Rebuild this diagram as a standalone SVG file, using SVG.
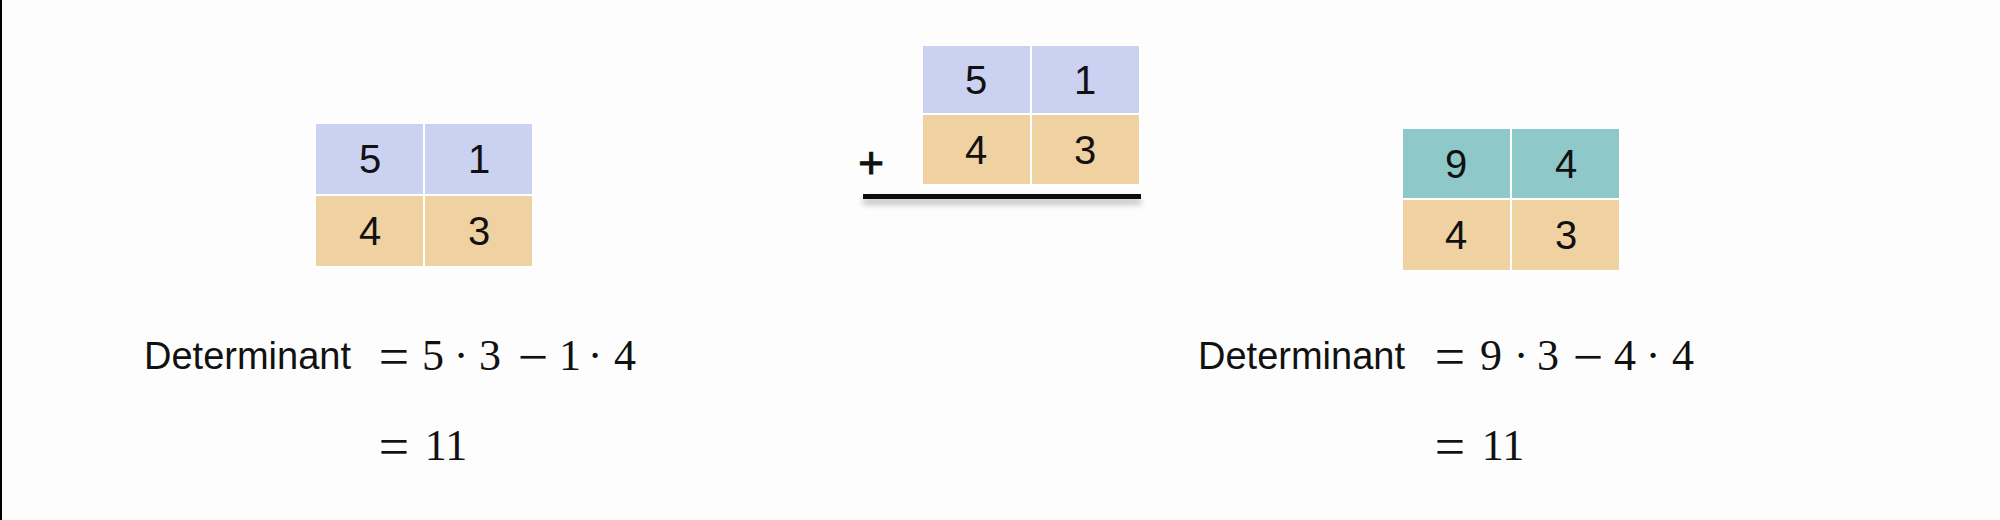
<svg xmlns="http://www.w3.org/2000/svg" width="2000" height="520" viewBox="0 0 2000 520">
<style>
.cell{stroke:#ffffff;stroke-width:2}
.lav{fill:#cbd1f1}
.peach{fill:#f0d1a1}
.teal{fill:#8fc8c8}
.num{font-family:"Liberation Sans",Arial,sans-serif;font-size:40px;fill:#111;text-anchor:middle}
.lbl{font-family:"Liberation Sans",Arial,sans-serif;font-size:38px;fill:#111}
.math{font-family:"Liberation Serif","Times New Roman",serif;font-size:44px;fill:#111;text-anchor:middle}
.op{font-family:"Liberation Serif","Times New Roman",serif;font-size:54px;fill:#111;text-anchor:middle}
</style>
<defs>
<filter id="sh" filterUnits="userSpaceOnUse" x="840" y="180" width="320" height="40">
<feGaussianBlur in="SourceAlpha" stdDeviation="3"/>
<feOffset dy="5" result="b"/>
<feComponentTransfer><feFuncA type="linear" slope="0.3"/></feComponentTransfer>
<feMerge><feMergeNode/><feMergeNode in="SourceGraphic"/></feMerge>
</filter>
</defs>
<rect width="2000" height="520" fill="#fdfdfd"/>
<rect x="0" y="0" width="2" height="520" fill="#000"/>

<g id="matrix-left">
<rect class="cell lav" x="315" y="123" width="109" height="72"/>
<rect class="cell lav" x="424" y="123" width="109" height="72"/>
<rect class="cell peach" x="315" y="195" width="109" height="72"/>
<rect class="cell peach" x="424" y="195" width="109" height="72"/>
<text class="num" x="370" y="173">5</text>
<text class="num" x="479" y="173">1</text>
<text class="num" x="370" y="245">4</text>
<text class="num" x="479" y="245">3</text>
</g>

<g id="matrix-middle">
<rect class="cell lav" x="922" y="45" width="109" height="69"/>
<rect class="cell lav" x="1031" y="45" width="109" height="69"/>
<rect class="cell peach" x="922" y="114" width="109" height="71"/>
<rect class="cell peach" x="1031" y="114" width="109" height="71"/>
<text class="num" x="976" y="94">5</text>
<text class="num" x="1085" y="94">1</text>
<text class="num" x="976" y="164">4</text>
<text class="num" x="1085" y="164">3</text>
<text class="num" x="871" y="178" style="font-size:44px;stroke:#111;stroke-width:1">+</text>
</g>

<g id="connectors">
<rect x="863" y="194" width="278" height="5" fill="#111" filter="url(#sh)"/>
</g>

<g id="matrix-right">
<rect class="cell teal" x="1402" y="128" width="109" height="71"/>
<rect class="cell teal" x="1511" y="128" width="109" height="71"/>
<rect class="cell peach" x="1402" y="199" width="109" height="72"/>
<rect class="cell peach" x="1511" y="199" width="109" height="72"/>
<text class="num" x="1456" y="178">9</text>
<text class="num" x="1566" y="178">4</text>
<text class="num" x="1456" y="249">4</text>
<text class="num" x="1566" y="249">3</text>
</g>

<g id="formula-left">
<text class="lbl" x="144" y="369">Determinant</text>
<text class="op" x="394" y="375">=</text>
<text class="math" x="433" y="370">5</text>
<text class="math" x="461" y="370">·</text>
<text class="math" x="490" y="370">3</text>
<text class="op" x="533" y="375">−</text>
<text class="math" x="570" y="370">1</text>
<text class="math" x="595" y="370">·</text>
<text class="math" x="625" y="370">4</text>
<text class="op" x="394" y="465">=</text>
<text class="math" x="446" y="460">11</text>
</g>

<g id="formula-right">
<text class="lbl" x="1198" y="369">Determinant</text>
<text class="op" x="1450" y="375">=</text>
<text class="math" x="1491" y="370">9</text>
<text class="math" x="1521" y="370">·</text>
<text class="math" x="1548" y="370">3</text>
<text class="op" x="1588" y="375">−</text>
<text class="math" x="1625" y="370">4</text>
<text class="math" x="1653" y="370">·</text>
<text class="math" x="1683" y="370">4</text>
<text class="op" x="1450" y="465">=</text>
<text class="math" x="1503" y="460">11</text>
</g>
</svg>
